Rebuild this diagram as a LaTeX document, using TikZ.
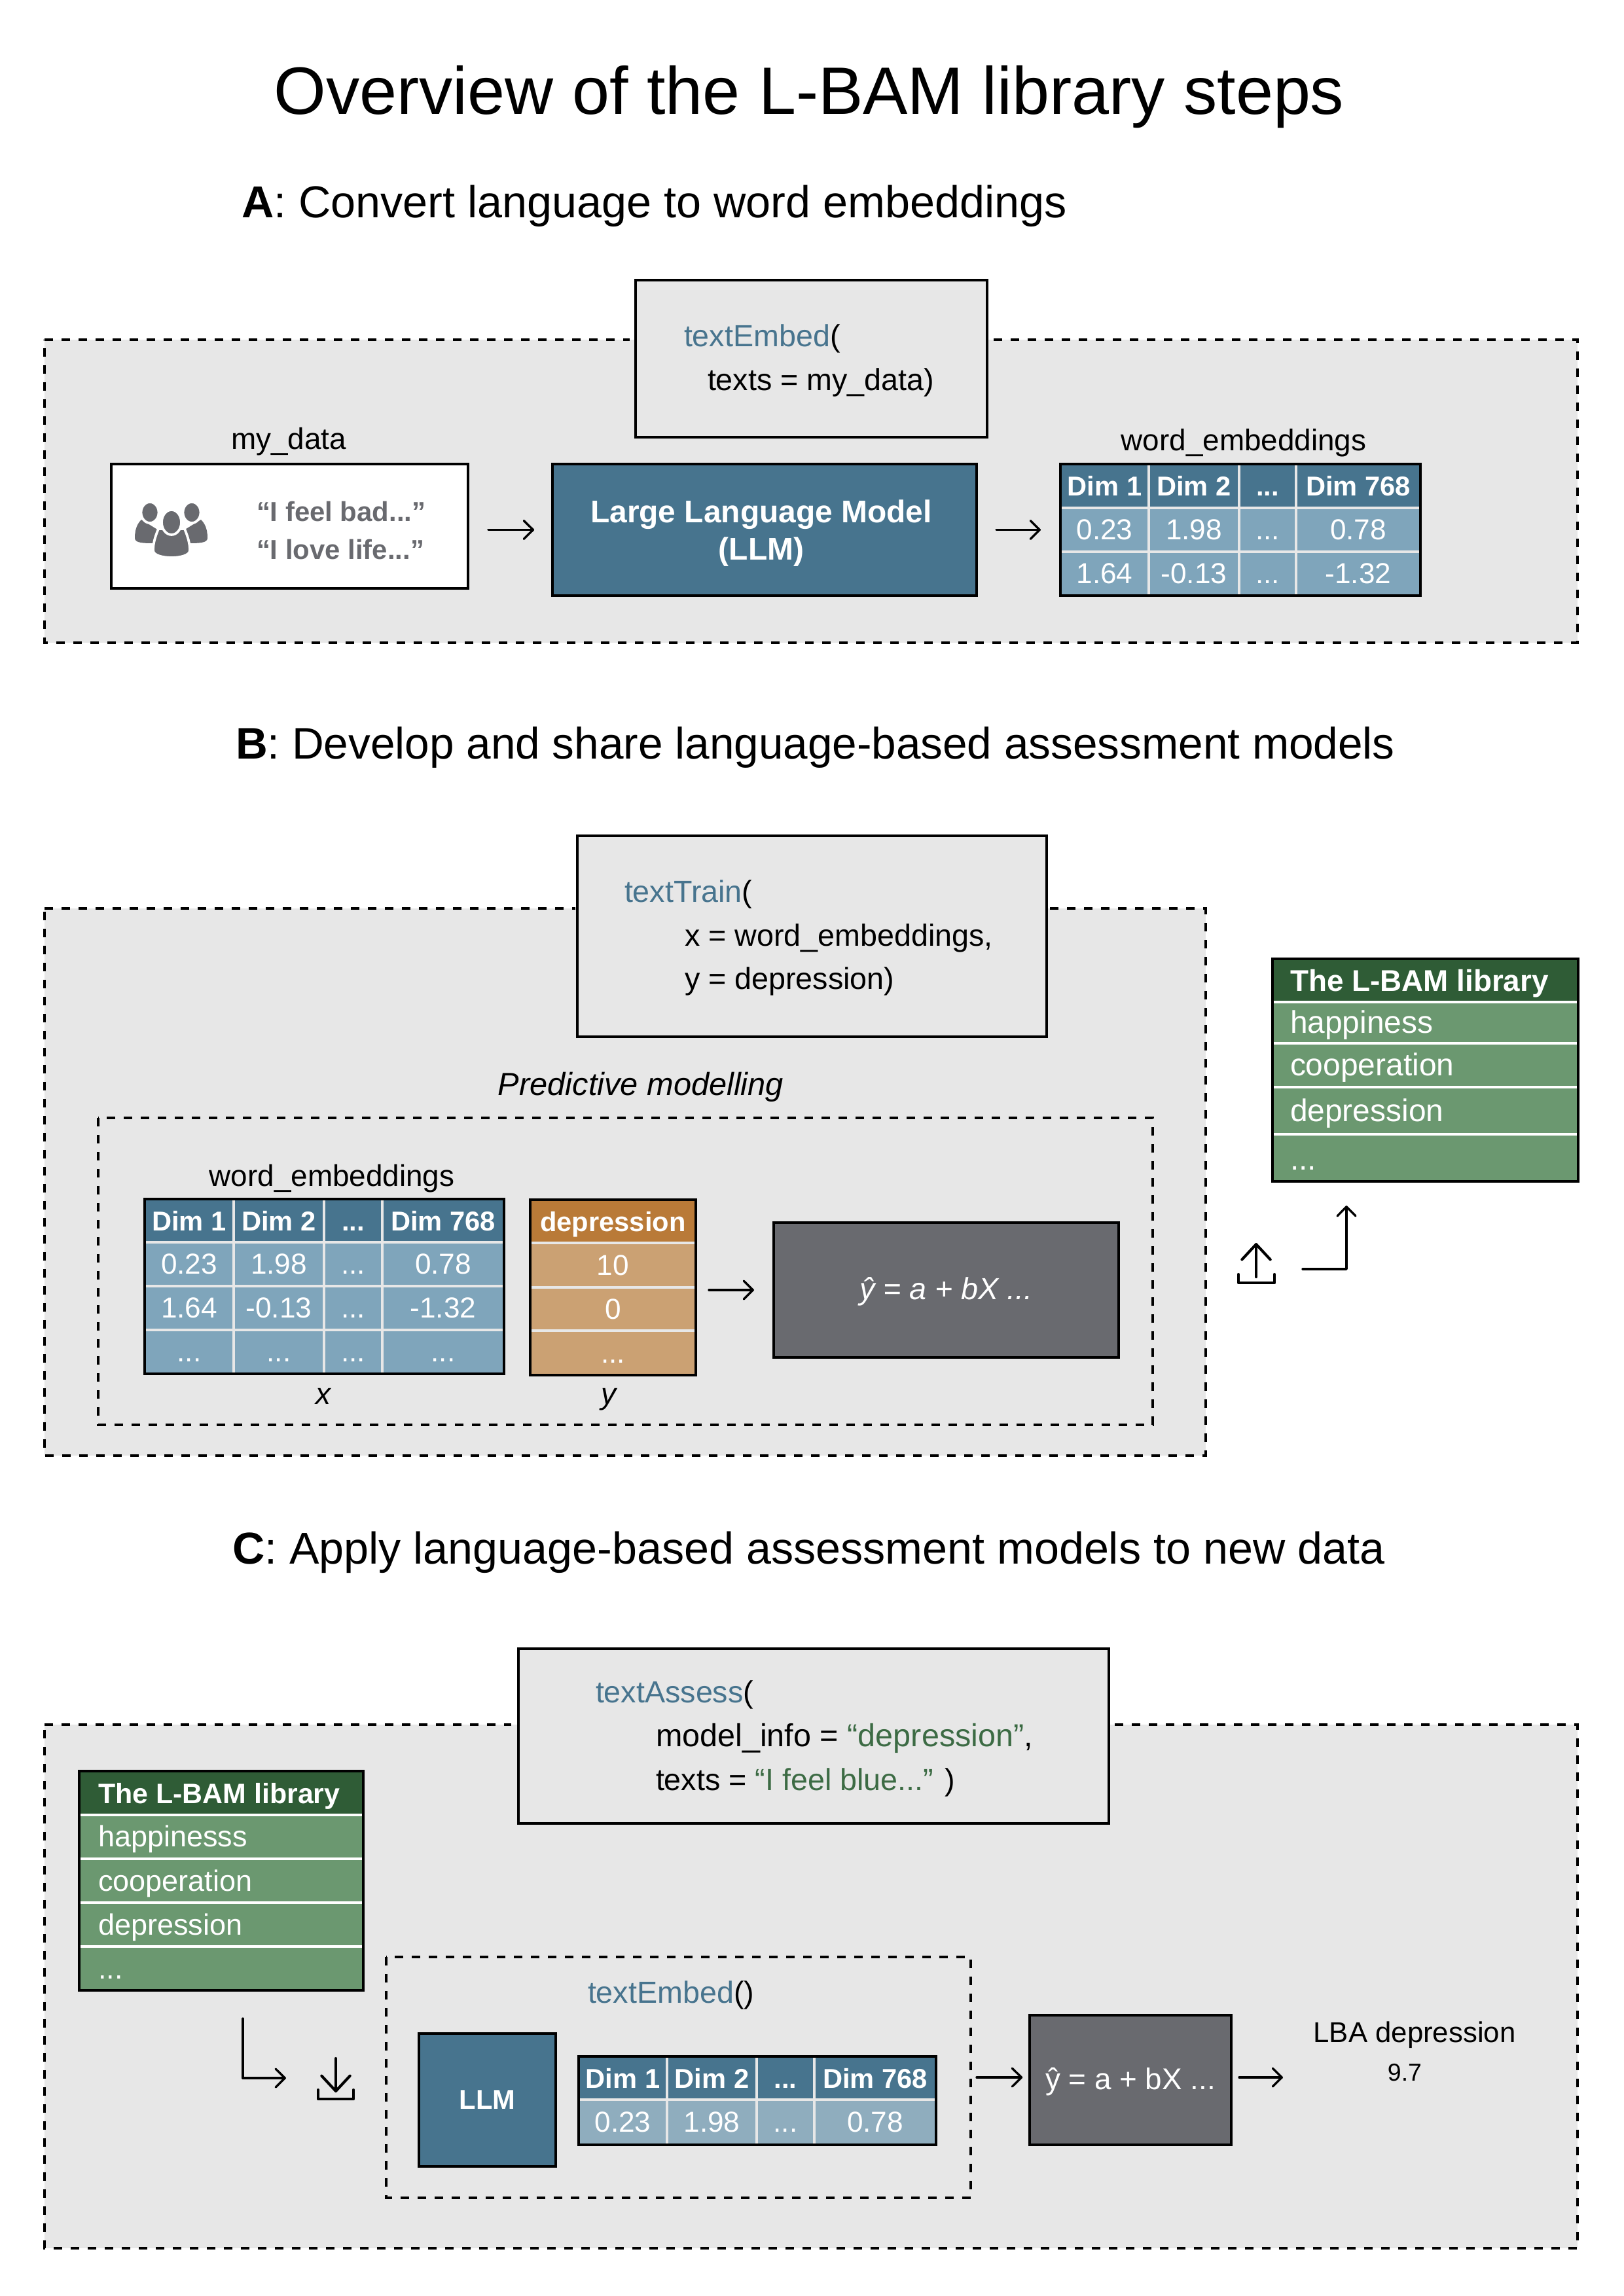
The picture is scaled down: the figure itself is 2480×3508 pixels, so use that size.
\documentclass[tikz,border=0pt]{standalone}
\usepackage{fontspec}
\setmainfont{Liberation Sans}
\usetikzlibrary{arrows.meta,calc}
\definecolor{panel}{HTML}{E7E7E7}
\definecolor{bluedark}{HTML}{47748E}
\definecolor{bluelight}{HTML}{7FA5BB}
\definecolor{bluepale}{HTML}{8FADBE}
\definecolor{orangedark}{HTML}{B97A38}
\definecolor{orangelight}{HTML}{CBA173}
\definecolor{slate}{HTML}{696A6F}
\definecolor{greendark}{HTML}{2F5C36}
\definecolor{greenlight}{HTML}{6B9870}
\definecolor{greentext}{HTML}{3C6B44}
\newcommand{\fsz}[1]{\fontsize{#1}{#1}\selectfont}
\tikzset{
  boxbase/.style={rectangle,inner sep=0pt,outer sep=0pt},
  panelbox/.style={fill=panel},
  framebox/.style={draw=black,line width=0.96pt},
  codebox/.style={fill=panel,framebox},
  cellh/.style={fill=bluedark,draw=panel,line width=0.96pt,text=white,font=\fsz{10}\bfseries,text height=7.3pt,text depth=0pt},
  cellb/.style={fill=bluelight,draw=panel,line width=0.96pt,text=white,font=\fsz{10.6},text height=7.3pt,text depth=0pt},
  cellc/.style={cellb,fill=bluepale},
  ormh/.style={cellh,fill=orangedark},
  ormb/.style={cellb,fill=orangelight},
  libh/.style={fill=greendark,draw=white,line width=0.96pt},
  libb/.style={fill=greenlight,draw=white,line width=0.96pt},
  lbl/.style={anchor=mid,inner sep=0pt,outer sep=0pt,font=\fsz{11}},
  lblw/.style={anchor=mid west,inner sep=0pt,outer sep=0pt,font=\fsz{11.2}},
  libtxt/.style={lblw,text=white,font=\fsz{11.5}},
  libtxtc/.style={lblw,text=white,font=\fsz{10.8}},
  dashline/.style={draw=black,line width=0.96pt,dash pattern=on 3.12pt off 3.12pt},
  arrowline/.style={draw=black,line width=0.8pt,line cap=round,line join=round,-{Straight Barb[length=3.4pt,width=6.7pt,round]}},
  iconline/.style={draw=black,line width=1pt,line cap=round,line join=round},
  icontip/.style={iconline,-{Straight Barb[length=5.6pt,width=10.4pt,round]}},
}
\newcommand{\bx}[7][]{\node[boxbase,#2,#1,minimum width={(#5-#3)*0.24pt},minimum height={(#6-#4)*0.24pt}] (#7) at ({(#3+#5)/2},{(#4+#6)/2})}
\newcommand{\trow}[8]{%
  \bx{#1}{\xa}{#3}{\xb}{#4}{#2a}{#5};
  \bx{#1}{\xb}{#3}{\xc}{#4}{#2b}{#6};
  \bx{#1}{\xc}{#3}{\xd}{#4}{#2c}{#7};
  \bx{#1}{\xd}{#3}{\xe}{#4}{#2d}{#8};}
\begin{document}
\begin{tikzpicture}[x=0.24pt,y=-0.24pt]
\useasboundingbox (0,0) rectangle (2480,3508);
\fill[white] (0,0) rectangle (2480,3508);

% titles
\node[lbl,font=\fsz{24.6}] (title) at (1236,164) {Overview of the L-BAM library steps};
\node[lblw,font=\fsz{16.4}] (headA) at (369,322) {\textbf{A}: Convert language to word embeddings};
\node[lblw,font=\fsz{16.2}] (headB) at (360,1148) {\textbf{B}: Develop and share language-based assessment models};
\node[lblw,font=\fsz{16.38}] (headC) at (355,2378) {\textbf{C}: Apply language-based assessment models to new data};

% ---------- A
\bx{panelbox}{68}{519}{2410}{982}{panelA}{};
\draw[dashline] (68,519) -- (962,519);
\draw[dashline] (1518,519) -- (2410,519) -- (2410,982) -- (68,982) -- (68,519);
\bx{codebox}{971}{428}{1508}{668}{codeA}{};
\node[lblw] (codeAa) at (1045,519) {\textcolor{bluedark}{textEmbed}(};
\node[lblw] (codeAb) at (1081,586) {texts = my\_data)};
\node[lbl] (mydatalbl) at (441,676) {my\_data};
\bx{framebox,fill=white}{170}{709}{715}{899}{mydata}{};
% people icon
\fill[slate] (206,822) .. controls (206,808) and (210,800) .. (216,794) -- (250,815) -- (236,830) .. controls (220,830) and (206,830) .. (206,822) -- cycle;
\fill[slate] (317,822) .. controls (317,808) and (313,800) .. (307,794) -- (273,815) -- (287,830) .. controls (303,830) and (317,830) .. (317,822) -- cycle;
\filldraw[fill=slate,draw=white,line width=0.9pt] (229,783) ellipse [x radius=13.5,y radius=16];
\filldraw[fill=slate,draw=white,line width=0.9pt] (293,783) ellipse [x radius=13.5,y radius=16];
\filldraw[fill=slate,draw=white,line width=0.9pt] (242,808) .. controls (237,820) and (234,830) .. (234,841) .. controls (234,849) and (250,852) .. (262,852) .. controls (274,852) and (290,849) .. (290,841) .. controls (290,830) and (287,820) .. (282,808) -- cycle;
\filldraw[fill=slate,draw=white,line width=0.9pt] (262,798) ellipse [x radius=15,y radius=19];
\node[lblw,font=\fsz{10.05}\bfseries,text=slate] (quoteA) at (392,785) {“I feel bad...”};
\node[lblw,font=\fsz{10.05}\bfseries,text=slate] (quoteB) at (392,843) {“I love life...”};
\bx{framebox,fill=bluedark}{844}{709}{1492}{910}{llm}{};
\node[anchor=center,inner sep=0pt,text=white,align=center,font=\fontsize{11.5}{13.7}\selectfont\bfseries] (llmtxt) at (1163,815) {Large Language Model\\(LLM)};
\node[lbl] (wordA) at (1900,677) {word\_embeddings};
\def\xa{1620}\def\xb{1755}\def\xc{1893}\def\xd{1980}\def\xe{2170}
\trow{cellh}{ah}{709}{776}{Dim 1}{Dim 2}{...}{Dim 768}
\trow{cellb}{ar}{776}{843}{0.23}{1.98}{...}{0.78}
\trow{cellb}{as}{843}{910}{1.64}{-0.13}{...}{-1.32}
\bx{framebox}{1620}{709}{2170}{910}{tabA}{};
\draw[arrowline,shorten <=7.4pt,shorten >=6.7pt] (mydata.east |- llm.west) -- (llm.west);
\draw[arrowline,shorten <=7.2pt,shorten >=7.2pt] (llm.east) -- (tabA.west);

% ---------- B
\bx{panelbox}{68}{1388}{1842}{2224}{panelB}{};
\draw[dashline] (68,1388) -- (879,1388);
\draw[dashline] (1604,1388) -- (1842,1388) -- (1842,2224) -- (68,2224) -- (68,1388);
\bx{codebox}{882}{1277}{1599}{1584}{codeB}{};
\node[lblw] (codeBa) at (954,1367) {\textcolor{bluedark}{textTrain}(};
\node[lblw] (codeBb) at (1046,1434) {x = word\_embeddings,};
\node[lblw] (codeBc) at (1046,1500) {y = depression)};
\node[lbl,font=\fsz{11.7}\itshape] (predlbl) at (979,1662) {Predictive modelling};
\draw[dashline] (150,1708) rectangle (1761,2177);
\node[lbl] (wordB) at (507,1801) {word\_embeddings};
\def\xa{221}\def\xb{357}\def\xc{495}\def\xd{584}\def\xe{770}
\trow{cellh}{bh}{1832}{1898}{Dim 1}{Dim 2}{...}{Dim 768}
\trow{cellb}{br}{1898}{1965}{0.23}{1.98}{...}{0.78}
\trow{cellb}{bs}{1965}{2032}{1.64}{-0.13}{...}{-1.32}
\trow{cellb}{bt}{2032}{2099}{...}{...}{...}{...}
\bx{framebox}{221}{1832}{770}{2099}{tabB}{};
\bx{ormh}{810}{1833}{1063}{1899}{depa}{depression};
\bx{ormb}{810}{1899}{1063}{1967}{depb}{10};
\bx{ormb}{810}{1967}{1063}{2033}{depc}{0};
\bx{ormb}{810}{2033}{1063}{2101}{depd}{...};
\bx{framebox}{810}{1833}{1063}{2101}{depB}{};
\bx{framebox,fill=slate,text=white,font=\fsz{11.2}\itshape,text height=7pt,text depth=0pt}{1182}{1868}{1709}{2074}{eqB}{ŷ = a + bX ...};
\node[lbl,font=\fsz{11}\itshape] (xlbl) at (494,2134) {x};
\node[lbl,font=\fsz{11}\itshape] (ylbl) at (930,2134) {y};
\draw[arrowline,shorten <=4.8pt,shorten >=7.2pt] (depB.east |- eqB.west) -- (eqB.west);
% library B
\bx{libh}{1944}{1465}{2411}{1531}{liba}{};
\bx{libb}{1944}{1531}{2411}{1594}{libb1}{};
\bx{libb}{1944}{1594}{2411}{1661}{libb2}{};
\bx{libb}{1944}{1661}{2411}{1733}{libb3}{};
\bx{libb}{1944}{1733}{2411}{1805}{libb4}{};
\bx{framebox}{1944}{1465}{2411}{1805}{libB}{};
\node[libtxt,font=\fsz{11}\bfseries] (libBt) at (1971,1503) {The L-BAM library};
\node[libtxt] (libBa) at (1971,1567) {happiness};
\node[libtxt] (libBb) at (1971,1632) {cooperation};
\node[libtxt] (libBc) at (1971,1702) {depression};
\node[libtxt] (libBd) at (1971,1776) {...};
% upload icon and elbow
\draw[iconline] (1892,1947) -- (1892,1960) -- (1947,1960) -- (1947,1947);
\draw[icontip] (1919,1951) -- (1919,1899);
\coordinate (upS) at (1990,1939);
\coordinate (upE) at (2057,1842);
\draw[arrowline] (upS) -| (upE);

% ---------- C
\bx{panelbox}{68}{2635}{2410}{3435}{panelC}{};
\draw[dashline] (68,2635) -- (781,2635);
\draw[dashline] (1703,2635) -- (2410,2635) -- (2410,3435) -- (68,3435) -- (68,2635);
\bx{codebox}{792}{2519}{1694}{2786}{codeC}{};
\node[lblw] (codeCa) at (910,2590) {\textcolor{bluedark}{textAssess}(};
\node[lblw,font=\fsz{11.65}] (codeCb) at (1002,2657) {model\_info = \textcolor{greentext}{“depression”},};
\node[lblw] (codeCc) at (1002,2724) {texts = \textcolor{greentext}{“I feel blue...”} )};
% library C
\bx{libh}{121}{2706}{555}{2773}{lcha}{};
\bx{libb}{121}{2773}{555}{2840}{lchb}{};
\bx{libb}{121}{2840}{555}{2907}{lchc}{};
\bx{libb}{121}{2907}{555}{2974}{lchd}{};
\bx{libb}{121}{2974}{555}{3041}{lche}{};
\bx{framebox}{121}{2706}{555}{3041}{libC}{};
\node[libtxtc,font=\fsz{10.3}\bfseries] (libCt) at (150,2744) {The L-BAM library};
\node[libtxtc] (libCa) at (150,2810) {happinesss};
\node[libtxtc] (libCb) at (150,2878) {cooperation};
\node[libtxtc] (libCc) at (150,2945) {depression};
\node[libtxtc] (libCd) at (150,3012) {...};
\coordinate (dnS) at (371,3084);
\coordinate (dnE) at (437,3175);
\draw[arrowline] (dnS) |- (dnE);
\draw[iconline] (486,3193) -- (486,3207) -- (540,3207) -- (540,3193);
\draw[icontip] (513,3145) -- (513,3197);
\draw[dashline] (590,2990) rectangle (1483,3358);
\node[lblw] (embC) at (898,3049) {\textcolor{bluedark}{textEmbed}()};
\bx{framebox,fill=bluedark,text=white,font=\fsz{10}\bfseries}{640}{3107}{849}{3310}{llmC}{LLM};
\def\xa{884}\def\xb{1019}\def\xc{1156}\def\xd{1244}\def\xe{1430}
\trow{cellh}{ch}{3142}{3208}{Dim 1}{Dim 2}{...}{Dim 768}
\trow{cellc}{cr}{3208}{3277}{0.23}{1.98}{...}{0.78}
\bx{framebox}{884}{3142}{1430}{3277}{tabC}{};
\bx{framebox,fill=slate,text=white,font=\fsz{11},text height=7pt,text depth=0pt}{1573}{3079}{1881}{3277}{eqC}{ŷ = a + bX ...};
\coordinate (cInS) at (1492,3174);
\coordinate (cOutE) at (1960,3174);
\draw[arrowline,shorten >=2.6pt] (cInS) -- (cInS -| eqC.west);
\draw[arrowline,shorten <=2.9pt] (cOutE -| eqC.east) -- (cOutE);
\node[lbl,font=\fsz{10.5}] (lba) at (2161,3109) {LBA depression};
\node[lbl,font=\fsz{9}] (lbaval) at (2146,3168) {9.7};
\end{tikzpicture}
\end{document}
